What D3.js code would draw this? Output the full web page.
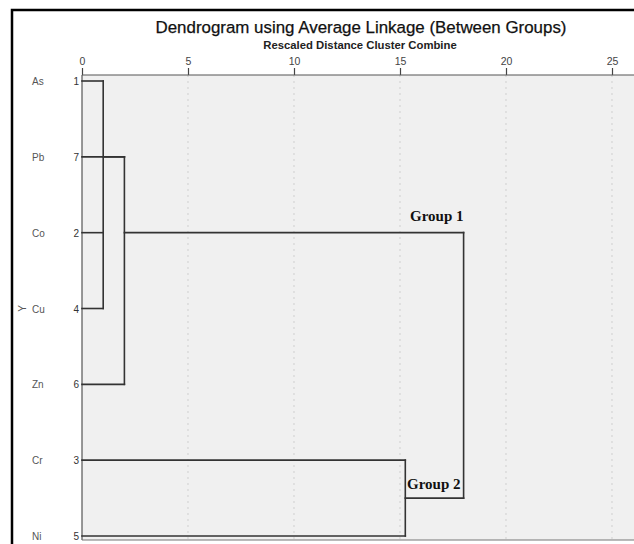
<!DOCTYPE html>
<html>
<head>
<meta charset="utf-8">
<script src="https://cdn.jsdelivr.net/npm/d3@7"></script>
<style>
  body { margin: 0; background: #fff; }
  svg { display: block; }
</style>
</head>
<body>
<svg id="chart" width="634" height="544"></svg>
<script>
// leaves, top to bottom, with SPSS case numbers
const leafNames = ["As", "Pb", "Co", "Cu", "Zn", "Cr", "Ni"]
const caseNums = [1, 7, 2, 4, 6, 3, 5]
const xTicks = [0, 5, 10, 15, 20, 25]

// merges: height = rescaled distance, row = where the cluster's link leaves it
const nodes = [
  { id: "A", children: ["As", "Co", "Cu"], height: 1, row: 1 },
  { id: "B", children: ["A", "Pb", "Zn"], height: 2, row: 2 },
  { id: "C", children: ["Cr", "Ni"], height: 15.25, row: 5.5 },
  { id: "R", children: ["B", "C"], height: 18, row: 3.75 }
]
const groupLabels = [
  { text: "Group 1", node: "B" },
  { text: "Group 2", node: "C" }
]

const svg = d3.select("#chart")
const W = 634, H = 544
const x = d3.scaleLinear().domain([0, 25]).range([82, 612])
const y = d3.scaleLinear().domain([0, leafNames.length - 1]).range([81, 536])
const plotTop = 75, plotBottom = 540

// lookup of height + row for leaves and nodes
let info = {}
leafNames.forEach((n, i) => info[n] = { height: 0, row: i })
nodes.forEach(n => info[n.id] = { height: n.height, row: n.row })

// frame
svg.append("path")
  .attr("d", `M12,${H} L12,10 L${W},10`)
  .attr("fill", "none").attr("stroke", "#000").attr("stroke-width", 2.5)

// plot background
svg.append("rect")
  .attr("x", x(0)).attr("y", plotTop)
  .attr("width", W - x(0)).attr("height", plotBottom - plotTop)
  .attr("fill", "#f0f0f0")

// grid
svg.selectAll(".grid")
  .data(xTicks.filter(d => d > 0))
  .enter().append("line")
  .attr("class", "grid")
  .attr("x1", d => x(d)).attr("x2", d => x(d))
  .attr("y1", plotTop).attr("y2", plotBottom)
  .attr("stroke", "#cfcfcf").attr("stroke-dasharray", "2,4")

// top axis
const axis = d3.axisTop(x).tickValues(xTicks).tickSize(7).tickPadding(3)
const gAx = svg.append("g").attr("transform", `translate(0,${plotTop})`).call(axis)
gAx.select(".domain").remove()
gAx.append("line").attr("x1", x(0)).attr("x2", W).attr("stroke", "#555").attr("stroke-width", 1.2)
gAx.selectAll(".tick line").attr("stroke", "#444").attr("stroke-width", 1.2)
gAx.selectAll(".tick text")
  .attr("fill", "#444").style("font-family", "Arial, 'Liberation Sans', sans-serif").style("font-size", "10.5px")

// left + bottom plot borders
svg.append("line").attr("x1", x(0)).attr("x2", x(0)).attr("y1", plotTop).attr("y2", plotBottom)
  .attr("stroke", "#555").attr("stroke-width", 1.2)
svg.append("line").attr("x1", x(0)).attr("x2", W).attr("y1", plotBottom).attr("y2", plotBottom)
  .attr("stroke", "#777").attr("stroke-width", 1.2)

// titles
svg.append("text")
  .attr("x", 361).attr("y", 33).attr("text-anchor", "middle")
  .style("font-family", "Arial, 'Liberation Sans', sans-serif").style("font-size", "16.9px")
  .attr("fill", "#111").attr("stroke", "#111").attr("stroke-width", 0.25)
  .text("Dendrogram using Average Linkage (Between Groups)")
svg.append("text")
  .attr("x", 360).attr("y", 49).attr("text-anchor", "middle")
  .style("font-family", "'Liberation Sans Narrow', 'Arial Narrow', Arial, sans-serif")
  .style("font-size", "11.3px").style("font-weight", "bold")
  .attr("fill", "#222")
  .text("Rescaled Distance Cluster Combine")

// leaf labels
const gLeaf = svg.append("g").style("font-family", "Arial, 'Liberation Sans', sans-serif").style("font-size", "10px")
gLeaf.selectAll(".name")
  .data(leafNames)
  .enter().append("text")
  .attr("x", 32).attr("y", (d, i) => y(i) + 4)
  .attr("fill", "#555")
  .text(d => d)
gLeaf.selectAll(".num")
  .data(caseNums)
  .enter().append("text")
  .attr("x", 79).attr("y", (d, i) => y(i) + 4)
  .attr("text-anchor", "end")
  .attr("fill", "#333")
  .text(d => d)

// axis title Y
svg.append("text")
  .attr("transform", `translate(26,${y(3)}) rotate(-90)`)
  .attr("text-anchor", "middle")
  .style("font-family", "Arial, 'Liberation Sans', sans-serif").style("font-size", "10px")
  .attr("fill", "#555")
  .text("Y")

// dendrogram links
let segs = []
nodes.forEach(n => {
  let rows = n.children.map(c => info[c].row)
  segs.push([n.height, d3.min(rows), n.height, d3.max(rows)])
  n.children.forEach(c => {
    segs.push([info[c].height, info[c].row, n.height, info[c].row])
  })
})

svg.append("g").selectAll("line")
  .data(segs)
  .enter().append("line")
  .attr("x1", d => x(d[0])).attr("y1", d => y(d[1]))
  .attr("x2", d => x(d[2])).attr("y2", d => y(d[3]))
  .attr("stroke", "#333").attr("stroke-width", 1.6)
  .attr("stroke-linecap", "square")

// group labels
svg.selectAll(".grp")
  .data(groupLabels)
  .enter().append("text")
  .attr("x", d => d.node == "B" ? 410 : 407)
  .attr("y", d => y(info[d.node].row) - 12 + (d.node == "C" ? 3 : 0))
  .style("font-family", "'Times New Roman', 'Liberation Serif', serif")
  .style("font-size", "15px").style("font-weight", "bold")
  .attr("fill", "#111")
  .text(d => d.text)
</script>
</body>
</html>
